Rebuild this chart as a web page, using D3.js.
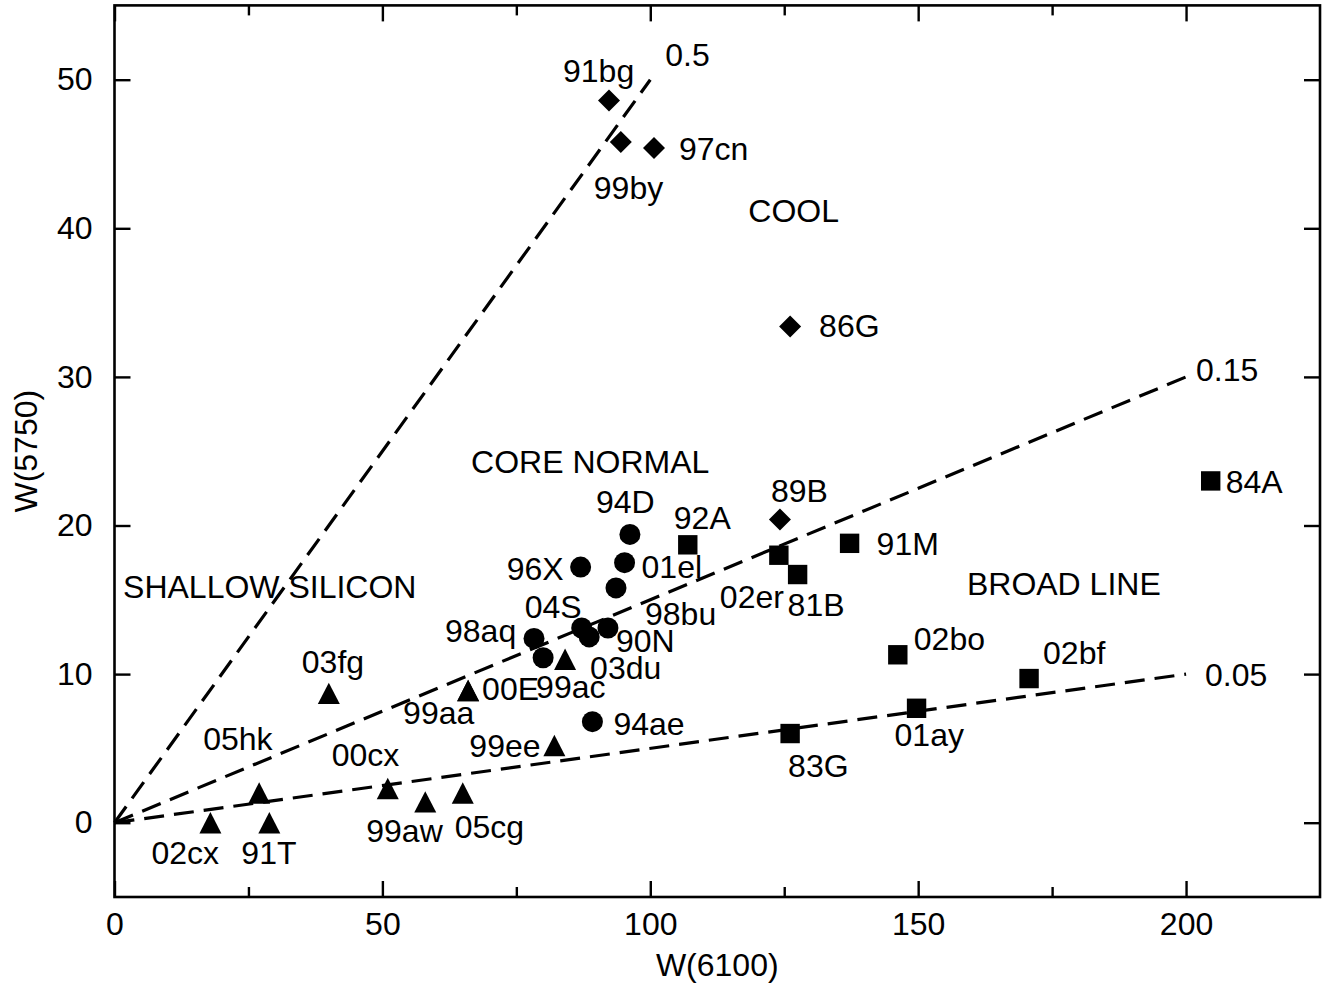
<!DOCTYPE html>
<html>
<head>
<meta charset="utf-8">
<script src="https://cdn.jsdelivr.net/npm/d3@7"></script>
<style>
  html, body { margin: 0; padding: 0; background: #fff; }
  svg text { font-family: "Liberation Sans", Arial, Helvetica, sans-serif; fill: #000; }
</style>
</head>
<body>
<svg id="chart" width="1333" height="988"></svg>
<script>
// ---- data: W(6100) vs W(5750) per supernova, grouped by spectral class ----
const coolSN = [
  { name: "91bg", x: 92.3,  y: 48.6 },
  { name: "99by", x: 94.5,  y: 45.8 },
  { name: "97cn", x: 100.7, y: 45.4 },
  { name: "86G",  x: 126.1, y: 33.4 },
  { name: "89B",  x: 124.2, y: 20.4 }
];
const coreNormalSN = [
  { name: "94D",  x: 96.2, y: 19.4 },
  { name: "01el", x: 95.2, y: 17.5 },
  { name: "96X",  x: 87.0, y: 17.2 },
  { name: "98bu", x: 93.6, y: 15.8 },
  { name: "04S",  x: 87.2, y: 13.1 },
  { name: "",     x: 88.6, y: 12.5 },
  { name: "90N",  x: 92.1, y: 13.1 },
  { name: "98aq", x: 78.3, y: 12.4 },
  { name: "03du", x: 80.0, y: 11.1 },
  { name: "94ae", x: 89.2, y: 6.8 }
];
const shallowSiliconSN = [
  { name: "02cx", x: 17.9, y: 0.0 },
  { name: "91T",  x: 28.9, y: 0.0 },
  { name: "05hk", x: 27.0, y: 2.0 },
  { name: "03fg", x: 40.0, y: 8.7 },
  { name: "00cx", x: 51.0, y: 2.3 },
  { name: "99aw", x: 58.0, y: 1.4 },
  { name: "05cg", x: 65.0, y: 2.0 },
  { name: "99aa", x: 66.0, y: 8.9 },
  { name: "00E",  x: 66.0, y: 8.9 },
  { name: "99ee", x: 82.1, y: 5.2 },
  { name: "99ac", x: 84.1, y: 11.0 }
];
const broadLineSN = [
  { name: "92A",  x: 107.0, y: 18.7 },
  { name: "02er", x: 124.0, y: 18.0 },
  { name: "81B",  x: 127.5, y: 16.7 },
  { name: "91M",  x: 137.2, y: 18.8 },
  { name: "02bo", x: 146.2, y: 11.3 },
  { name: "01ay", x: 149.7, y: 7.7 },
  { name: "83G",  x: 126.1, y: 6.0 },
  { name: "02bf", x: 170.7, y: 9.7 },
  { name: "84A",  x: 204.6, y: 23.0 }
];

// ratio lines W(5750) = r * W(6100), drawn from the origin
const ratioValues = [0.5, 0.15, 0.05];
const ratioEndX   = [100, 200, 200];

// group captions, anchored in data units
const groupCaptions = [
  { text: "COOL",            x: 118.3, y: 40.4 },
  { text: "CORE NORMAL",     x: 66.55, y: 23.5 },
  { text: "SHALLOW SILICON", x: 1.6,   y: 15.1 },
  { text: "BROAD LINE",      x: 159.1, y: 15.3 }
];

const xTicks = [0, 50, 100, 150, 200];
const xMinorTicks = [25, 75, 125, 175];
const yTicks = [0, 10, 20, 30, 40, 50];

// ---- layout: label placement relative to each marker (pixels: left, baseline) ----
const labelOffset = {
  "91bg": [-46, -19], "99by": [-27, 57], "97cn": [25, 12], "86G": [29, 11], "89B": [-9, -18],
  "94D": [-34, -21], "01el": [17, 15], "96X": [-74, 13], "98bu": [29, 37], "04S": [-57, -10],
  "90N": [8, 24], "98aq": [-89, 4], "03du": [47, 21], "94ae": [21, 13],
  "02cx": [-59, 41], "91T": [-28, 41], "05hk": [-56, -43], "03fg": [-27, -20], "00cx": [-56, -23],
  "99aw": [-59, 40], "05cg": [-8, 45], "99aa": [-65, 34], "00E": [14, 10], "99ee": [-85, 12],
  "99ac": [-29, 39],
  "92A": [-14, -16], "02er": [-59, 53], "81B": [-10, 41], "91M": [27, 12], "02bo": [16, -5],
  "01ay": [-22, 38], "83G": [-2, 43], "02bf": [14, -15], "84A": [15, 12]
};
const ratioLabelOffset = [[15, -14], [10, 4], [19, 12]];

const svg = d3.select("#chart");
const FONT = 32;
const plotLeft = 114.5, plotRight = 1320, plotTop = 5.4, plotBottom = 897;

const x = d3.scaleLinear().domain([0, 225]).range([plotLeft, plotRight]);
const y = d3.scaleLinear().domain([-5, 55]).range([plotBottom, plotTop]);

// ---- axes: ticks point inward on all four sides ----
function styleAxis(g) {
  g.select(".domain").remove();
  g.selectAll(".tick line").attr("stroke", "#000").attr("stroke-width", 2.4);
  g.selectAll(".tick text").attr("font-size", FONT).attr("font-family", "Liberation Sans, Arial, sans-serif").attr("fill", "#000");
}

svg.append("g").attr("transform", `translate(0,${plotBottom})`)
  .call(d3.axisBottom(x).tickValues(xTicks).tickSize(-16).tickPadding(15).tickFormat(d3.format("d")))
  .call(styleAxis);
svg.append("g").attr("transform", `translate(0,${plotBottom})`)
  .call(d3.axisBottom(x).tickValues(xMinorTicks).tickSize(-10).tickFormat(""))
  .call(styleAxis);
svg.append("g").attr("transform", `translate(0,${plotTop})`)
  .call(d3.axisTop(x).tickValues(xTicks).tickSize(-16).tickFormat(""))
  .call(styleAxis);
svg.append("g").attr("transform", `translate(0,${plotTop})`)
  .call(d3.axisTop(x).tickValues(xMinorTicks).tickSize(-10).tickFormat(""))
  .call(styleAxis);
svg.append("g").attr("transform", `translate(${plotLeft},0)`)
  .call(d3.axisLeft(y).tickValues(yTicks).tickSize(-16).tickPadding(22).tickFormat(d3.format("d")))
  .call(styleAxis);
svg.append("g").attr("transform", `translate(${plotRight},0)`)
  .call(d3.axisRight(y).tickValues(yTicks).tickSize(-16).tickFormat(""))
  .call(styleAxis);

// plot frame
svg.append("rect")
  .attr("x", plotLeft).attr("y", plotTop)
  .attr("width", plotRight - plotLeft).attr("height", plotBottom - plotTop)
  .attr("fill", "none").attr("stroke", "#000").attr("stroke-width", 2.6);

// axis titles
svg.append("text")
  .attr("x", (plotLeft + plotRight) / 2).attr("y", 976)
  .attr("text-anchor", "middle").attr("font-size", FONT)
  .text("W(6100)");
svg.append("text")
  .attr("transform", `translate(36.5,${(plotTop + plotBottom) / 2}) rotate(-90)`)
  .attr("text-anchor", "middle").attr("font-size", FONT)
  .text("W(5750)");

// ---- ratio lines ----
const line = d3.line().x(d => x(d[0])).y(d => y(d[1]));
const ratioLines = ratioValues.map((r, i) => ({ r, pts: [[0, 0], [ratioEndX[i], r * ratioEndX[i]]], i }));
svg.append("g").selectAll("path").data(ratioLines).join("path")
  .attr("d", d => line(d.pts))
  .attr("fill", "none").attr("stroke", "#000")
  .attr("stroke-width", 3.2).attr("stroke-dasharray", "20,10");
svg.append("g").selectAll("text").data(ratioLines).join("text")
  .attr("x", d => x(d.pts[1][0]) + ratioLabelOffset[d.i][0])
  .attr("y", d => y(d.pts[1][1]) + ratioLabelOffset[d.i][1])
  .attr("font-size", FONT)
  .text(d => String(d.r));

// ---- group captions ----
svg.append("g").selectAll("text").data(groupCaptions).join("text")
  .attr("x", d => x(d.x)).attr("y", d => y(d.y))
  .attr("font-size", FONT).text(d => d.text);

// ---- markers ----
const shapes = {
  diamond:  "M0,-11L11,0L0,11L-11,0Z",
  circle:   d3.symbol(d3.symbolCircle, Math.PI * 10.5 * 10.5)(),
  triangle: "M0,-10.7L11,10.7L-11,10.7Z",
  square:   "M-9.7,-9.7H9.7V9.7H-9.7Z"
};
const groups = [
  { data: coolSN, shape: "diamond" },
  { data: coreNormalSN, shape: "circle" },
  { data: shallowSiliconSN, shape: "triangle" },
  { data: broadLineSN, shape: "square" }
];
const marks = svg.append("g");
const labels = svg.append("g");
groups.forEach(gr => {
  marks.selectAll(null).data(gr.data).join("path")
    .attr("transform", d => `translate(${x(d.x)},${y(d.y)})`)
    .attr("d", shapes[gr.shape]).attr("fill", "#000");
  labels.selectAll(null).data(gr.data.filter(d => d.name && labelOffset[d.name])).join("text")
    .attr("x", d => x(d.x) + labelOffset[d.name][0])
    .attr("y", d => y(d.y) + labelOffset[d.name][1])
    .attr("font-size", FONT).text(d => d.name);
});
</script>
</body>
</html>
